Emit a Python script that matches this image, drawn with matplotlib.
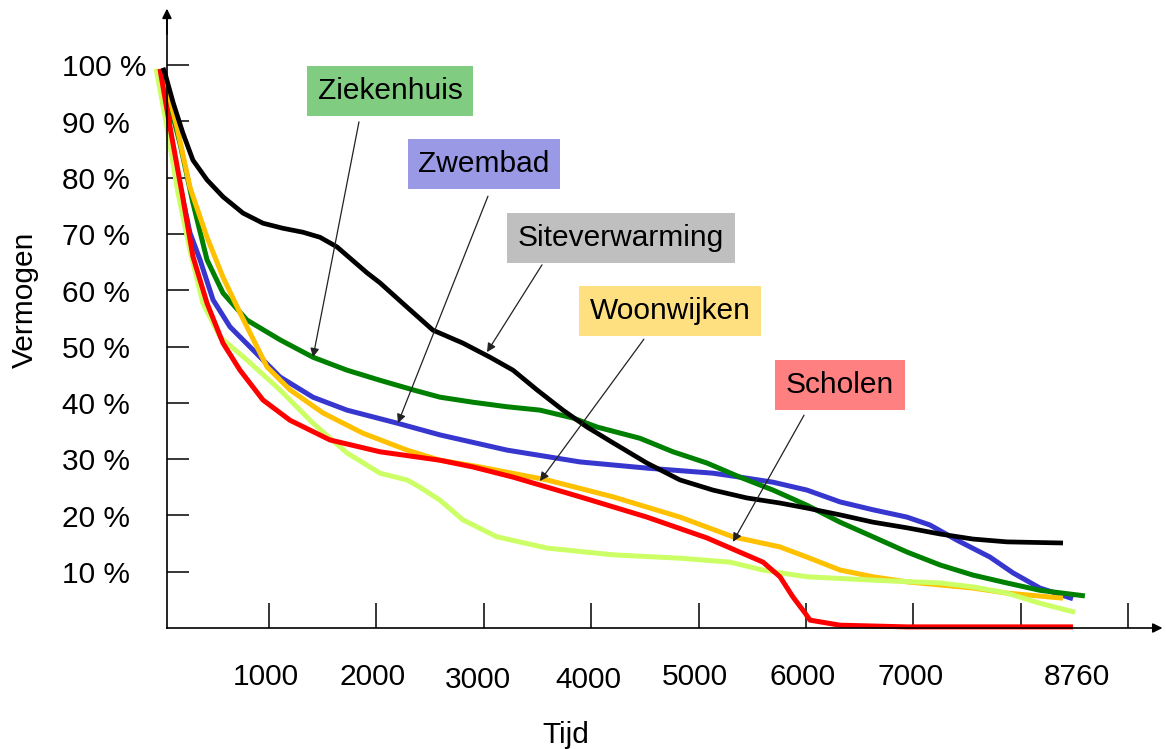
import matplotlib.pyplot as plt

plt.rcParams['font.family'] = ['Liberation Sans', 'DejaVu Sans']

# belastingduurkrommen: uren per jaar (x) en vermogen in % (y)
site_x = [13, 31, 108, 199, 292, 423, 572, 758, 944, 1130, 1316, 1475, 1633, 1912, 2034, 2285, 2527, 2806,
          3058, 3272, 3495, 3737, 3961, 4203, 4519, 4827, 5134, 5450, 5758, 6009, 6317, 6624, 6940, 7248,
          7555, 7871, 8393]
site_y = [99.5, 98.6, 93.3, 87.9, 83.1, 79.6, 76.6, 73.7, 71.9, 71.0, 70.3, 69.4, 67.7, 63.1, 61.3, 57.0,
          52.9, 50.6, 48.1, 45.8, 42.3, 38.7, 35.7, 32.9, 29.3, 26.3, 24.5, 23.1, 22.2, 21.3, 20.1, 18.8,
          17.8, 16.7, 15.8, 15.3, 15.1]

zieken_x = [4, 50, 171, 292, 423, 572, 795, 1102, 1409, 1726, 2034, 2341, 2592, 2900, 3216, 3523, 3831,
            4054, 4454, 4762, 5078, 5385, 5693, 6009, 6317, 6624, 6940, 7248, 7555, 7871, 8178, 8597]
zieken_y = [99.3, 95.0, 86.1, 75.5, 65.4, 59.5, 54.7, 51.2, 48.1, 45.8, 44.0, 42.3, 41.0, 40.1, 39.3, 38.7,
            37.3, 35.7, 33.7, 31.3, 29.3, 26.8, 24.5, 21.8, 18.8, 16.2, 13.5, 11.2, 9.4, 8.0, 6.7, 5.7]

zwem_x = [4, 50, 143, 264, 358, 479, 637, 851, 1102, 1409, 1726, 2191, 2592, 3216, 3896, 4519, 5134,
          5385, 5693, 6009, 6317, 6624, 6940, 7154, 7406, 7713, 7927, 8178, 8486]
zwem_y = [99.3, 92.0, 81.3, 70.2, 65.4, 58.3, 53.5, 49.4, 44.6, 41.0, 38.7, 36.4, 34.3, 31.6, 29.5, 28.4,
          27.5, 26.8, 25.9, 24.5, 22.4, 21.0, 19.7, 18.3, 15.6, 12.6, 9.8, 7.1, 5.2]

woon_x = [4, 13, 143, 264, 423, 572, 730, 981, 1196, 1503, 1875, 2285, 2592, 2965, 3588, 4203, 4827,
          5320, 5758, 6009, 6317, 6624, 6940, 7555, 7871, 8393]
woon_y = [99.3, 98.6, 89.0, 78.3, 69.4, 62.3, 56.0, 46.4, 42.3, 38.2, 34.6, 31.6, 29.8, 28.6, 26.3, 23.3,
          19.7, 16.2, 14.4, 12.6, 10.3, 9.1, 8.2, 7.1, 6.2, 5.3]

school_x = [-15, 78, 190, 292, 423, 572, 730, 944, 1196, 1568, 2034, 2592, 2900, 3272, 3896, 4519, 5078,
            5600, 5758, 5879, 5990, 6037, 6317, 6940, 8486]
school_y = [99.3, 89.0, 77.3, 66.0, 57.7, 50.6, 45.8, 40.5, 36.9, 33.4, 31.3, 29.8, 28.6, 26.8, 23.3, 19.7,
            16.0, 11.7, 9.1, 5.5, 2.7, 1.4, 0.5, 0.2, 0.2]

licht_x = [-50, 50, 153, 264, 385, 544, 795, 1102, 1409, 1726, 2034, 2285, 2406, 2592, 2806, 3123, 3588,
           4203, 4827, 5292, 5600, 5758, 6009, 6624, 7248, 7555, 7871, 8178, 8505]
licht_y = [99.3, 89.0, 77.3, 67.1, 57.7, 51.7, 47.6, 42.3, 36.4, 31.1, 27.5, 26.3, 25.0, 22.7, 19.2, 16.2,
           14.2, 13.0, 12.4, 11.7, 10.3, 9.8, 9.1, 8.5, 8.0, 7.3, 6.2, 4.4, 2.8]

y_ticks = list(range(10, 101, 10))
y_labels = ['%d %%' % v for v in y_ticks]
x_ticks = list(range(1000, 9001, 1000))
x_labels = ['1000', '2000', '3000', '4000', '5000', '6000', '7000', '8760']

fig = plt.figure(figsize=(11.66, 7.49), dpi=100)
ax = fig.add_axes([0.0004, 0.0112, 0.9994, 0.9847])
ax.set_xlim(-1500, 9350)
ax.set_ylim(-20, 111)
ax.patch.set_visible(False)

fs = 21.5
lk = dict(lw=3.6, solid_joinstyle='round', solid_capstyle='butt')

# curves
ax.plot(zwem_x, zwem_y, color='#3737CF', **lk)
ax.plot(zieken_x, zieken_y, color='#008000', **lk)
ax.plot(woon_x, woon_y, color='#FFC000', **lk)
ax.plot(licht_x, licht_y, color='#CCFF66', **lk)
ax.plot(school_x, school_y, color='#FF0000', **lk)
ax.plot(site_x, site_y, color='#000000', lw=3.4, solid_joinstyle='round', solid_capstyle='butt')

# assen met pijlen
for s in ['top', 'right']:
    ax.spines[s].set_visible(False)
ax.spines['left'].set_position(('data', 50))
ax.spines['bottom'].set_position(('data', 0))
ax.spines['left'].set_bounds(0, 109.5)
ax.spines['bottom'].set_bounds(50, 9300)
ax.spines['left'].set_linewidth(1.2)
ax.spines['bottom'].set_linewidth(1.2)
ax.annotate('', xy=(50, 110.5), xytext=(50, 105), arrowprops=dict(arrowstyle='-|>', color='k', lw=1.2, mutation_scale=14))
ax.annotate('', xy=(9345, 0), xytext=(9200, 0), arrowprops=dict(arrowstyle='-|>', color='k', lw=1.2, mutation_scale=14))

ax.set_xticks(x_ticks)
ax.set_yticks(y_ticks)
ax.tick_params(axis='x', direction='in', length=18, width=1.1, labelbottom=False)
ax.tick_params(axis='y', direction='in', length=16, width=1.1, labelleft=False)

for v, lab in zip(y_ticks, y_labels):
    ax.text(-930, v - 0.6, lab, fontsize=fs, ha='left', va='center')

x_label_pos = [975, 1960, 2945, 3970, 4965, 5970, 6975, 8520]
x_label_y = [-8.7, -8.7, -9.2, -9.2, -8.7, -8.7, -8.7, -8.7]
for xp, yp, lab in zip(x_label_pos, x_label_y, x_labels):
    ax.text(xp, yp, lab, fontsize=fs, ha='center', va='center')

ax.text(3765, -19.0, 'Tijd', fontsize=fs, ha='center', va='center')
ax.text(-1272, 58.3, 'Vermogen', fontsize=fs, ha='center', va='center', rotation=90)

# labels met pijlen
labels = ['Ziekenhuis', 'Zwembad', 'Siteverwarming', 'Woonwijken', 'Scholen']
box_colors = ['#80CC80', '#9999E6', '#BFBFBF', '#FFE080', '#FF8080']
box_xy = [(2127, 95.4), (3002, 82.4), (4278, 69.3), (4734, 56.3), (6316, 43.2)]
arrow_tail = [(1838, 89.9), (3039, 76.7), (3542, 64.5), (4491, 51.3), (5982, 37.8)]
arrow_head = [(1410, 48.1), (2201, 36.4), (3030, 49.0), (3523, 26.1), (5320, 15.3)]

for lab, c, (bx, by), (tx, ty), (hx, hy) in zip(labels, box_colors, box_xy, arrow_tail, arrow_head):
    ax.text(bx, by, lab, fontsize=fs, ha='center', va='center',
            bbox=dict(boxstyle='square,pad=0.36', fc=c, ec='none'))
    ax.annotate('', xy=(hx, hy), xytext=(tx, ty),
                arrowprops=dict(arrowstyle='-|>', color='#222222', lw=0.9, mutation_scale=13,
                                shrinkA=0, shrinkB=0))

fig.savefig('out.png', dpi=100)
